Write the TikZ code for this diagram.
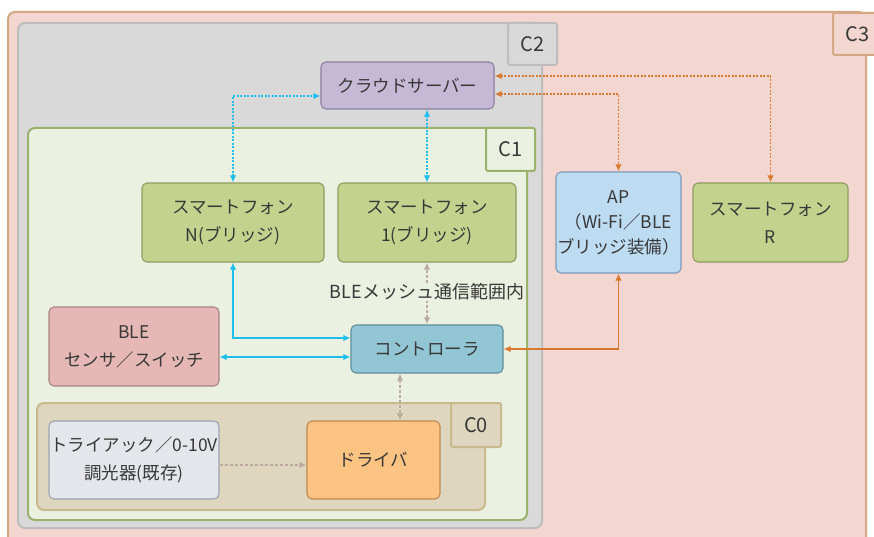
\documentclass[tikz,border=0pt]{standalone}
\usepackage{fontspec}
\setmainfont{Noto Sans CJK JP}
\usetikzlibrary{arrows.meta,calc}
\definecolor{txt}{HTML}{383838}
\definecolor{cthreefill}{HTML}{F2D6CF}
\definecolor{cthreedraw}{HTML}{D4A886}
\definecolor{ctwofill}{HTML}{D9D9D9}
\definecolor{ctwodraw}{HTML}{BDBDBD}
\definecolor{conefill}{HTML}{EBF1E0}
\definecolor{conedraw}{HTML}{9BB26E}
\definecolor{czerofill}{HTML}{DED6BE}
\definecolor{czerodraw}{HTML}{C8B98F}
\definecolor{cloudfill}{HTML}{C6B9D6}
\definecolor{clouddraw}{HTML}{8C7FA0}
\definecolor{phonefill}{HTML}{C3D38E}
\definecolor{phonedraw}{HTML}{8E9C63}
\definecolor{apfill}{HTML}{BDDBF1}
\definecolor{apdraw}{HTML}{7D9BB6}
\definecolor{sensfill}{HTML}{E6B8B5}
\definecolor{sensdraw}{HTML}{A88482}
\definecolor{ctrlfill}{HTML}{92C6D4}
\definecolor{ctrldraw}{HTML}{5F8E9B}
\definecolor{triacfill}{HTML}{E4E6EC}
\definecolor{triacdraw}{HTML}{9EA2AA}
\definecolor{drvfill}{HTML}{FDC382}
\definecolor{drvdraw}{HTML}{C28A4F}
\definecolor{bluearr}{HTML}{1EBEEF}
\definecolor{orangearr}{HTML}{D9792F}
\definecolor{grayarr}{HTML}{BCAAA0}
\tikzset{
  box/.style={rectangle, rounded corners=5pt, line width=1.1pt, inner sep=0pt,
    align=center, text=txt, font=\fontsize{17.5}{28}\selectfont},
  cont/.style={rectangle, rounded corners=7pt, line width=2pt, inner sep=0pt},
  clabel/.style={rectangle, rounded corners=2pt, line width=2pt, inner sep=0pt,
    text=txt, font=\fontsize{20}{22}\selectfont},
  bdot/.style={draw=bluearr, line width=1.6pt, dash pattern=on 2pt off 1.5pt, {Latex[length=7pt,width=6.5pt]}-{Latex[length=7pt,width=6.5pt]}},
  bsol/.style={draw=bluearr, line width=1.6pt, {Latex[length=7pt,width=6.5pt]}-{Latex[length=7pt,width=6.5pt]}},
  odot/.style={draw=orangearr, line width=1.6pt, dash pattern=on 2pt off 1.5pt, {Latex[length=7pt,width=6.5pt]}-{Latex[length=7pt,width=6.5pt]}},
  osol/.style={draw=orangearr, line width=1.6pt, {Latex[length=7pt,width=6.5pt]}-{Latex[length=7pt,width=6.5pt]}},
  gdot/.style={draw=grayarr, line width=1.5pt, dash pattern=on 3pt off 2pt},
}
\begin{document}
\begin{tikzpicture}[x=1pt,y=-1pt]
\useasboundingbox (0,0) rectangle (874,537);
\clip (0,0) rectangle (874,537);
% containers
\node[cont, draw=cthreedraw, fill=cthreefill, minimum width=858pt, minimum height=533pt] (c3) at (437,278.5) {};
\node[clabel, draw=cthreedraw, fill=cthreefill, minimum width=49pt, minimum height=42pt] (c3l) at (857.5,34) {C3};
\node[cont, draw=ctwodraw, fill=ctwofill, minimum width=524pt, minimum height=505pt] (c2) at (280,275.5) {};
\node[clabel, draw=ctwodraw, fill=ctwofill, minimum width=49pt, minimum height=42pt] (c2l) at (532.5,44) {C2};
\node[cont, draw=conedraw, fill=conefill, minimum width=499pt, minimum height=392pt] (c1) at (277.5,324) {};
\node[clabel, draw=conedraw, fill=conefill, minimum width=49pt, minimum height=43pt] (c1l) at (510.5,149.5) {C1};
\node[cont, draw=czerodraw, fill=czerofill, minimum width=448pt, minimum height=107pt] (c0) at (261,456.5) {};
\node[clabel, draw=czerodraw, fill=czerofill, minimum width=50pt, minimum height=44pt] (c0l) at (476,425) {C0};
% boxes
\node[box, draw=clouddraw, fill=cloudfill, minimum width=173pt, minimum height=47pt] (cloud) at (407.5,85.5) {クラウドサーバー};
\node[box, draw=phonedraw, fill=phonefill, minimum width=182pt, minimum height=79pt] (sN) at (233,222.5) {スマートフォン\\N(ブリッジ)};
\node[box, draw=phonedraw, fill=phonefill, minimum width=178pt, minimum height=79pt] (s1) at (427,222.5) {スマートフォン\\1(ブリッジ)};
\node[box, draw=apdraw, fill=apfill, minimum width=125pt, minimum height=101pt, font=\fontsize{17.5}{25}\selectfont] (ap) at (618.5,222.5) {AP\\（Wi-Fi／BLE\\ブリッジ装備）};
\node[box, draw=phonedraw, fill=phonefill, minimum width=155pt, minimum height=79pt] (sR) at (770.5,222.5) {スマートフォン\\R};
\node[box, draw=sensdraw, fill=sensfill, minimum width=170pt, minimum height=79pt] (sens) at (134,346.5) {BLE\\センサ／スイッチ};
\node[box, draw=ctrldraw, fill=ctrlfill, minimum width=152pt, minimum height=48pt] (ctrl) at (427,349) {コントローラ};
\node[box, draw=triacdraw, fill=triacfill, minimum width=170pt, minimum height=78pt] (triac) at (134,460) {トライアック／0-10V\\調光器(既存)};
\node[box, draw=drvdraw, fill=drvfill, minimum width=133pt, minimum height=78pt] (drv) at (373.5,460) {ドライバ};
% connectors
\draw[bdot] (sN.north) |- ($(cloud.west)+(0,10.5)$);
\draw[bdot] (cloud.south) ++(19.5,0) coordinate (cs) -- (cs |- s1.north);
\draw[odot] ($(cloud.east)+(0,-9.5)$) -| (sR.north);
\draw[odot] ($(cloud.east)+(0,8.5)$) -| (ap.north);
\draw[osol] (ctrl.east) -| (ap.south);
\coordinate (p1) at ($(ctrl.west)+(0,-11)$);
\coordinate (p2) at ($(ctrl.west)+(0,8)$);
\draw[bsol] (sN.south) |- (p1);
\draw[bsol] (p2 -| sens.east) -- (p2);
\draw[gdot, {Latex[length=7pt,width=6.5pt]}-{Latex[length=7pt,width=6.5pt]}] (ctrl.north) -- (s1.south);
\coordinate (g1) at ($(ctrl.south)+(-27,0)$);
\draw[gdot, {Latex[length=7pt,width=6.5pt]}-{Latex[length=7pt,width=6.5pt]}] (g1) -- (g1 |- drv.north);
\coordinate (t1) at ($(triac.east)+(0,5)$);
\draw[gdot, -{Latex[length=7pt,width=6.5pt]}] (t1) -- (t1 -| drv.west);
\node[fill=conefill, inner sep=1pt, text=txt, font=\fontsize{18}{20}\selectfont] (mesh) at (427,292) {BLEメッシュ通信範囲内};
\end{tikzpicture}
\end{document}
